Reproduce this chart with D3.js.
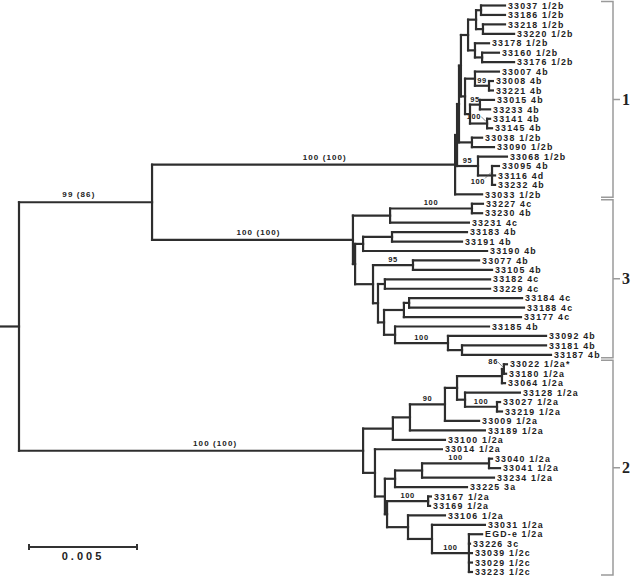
<!DOCTYPE html>
<html><head><meta charset="utf-8">
<script src="https://cdn.jsdelivr.net/npm/d3@7"></script>
<style>body{margin:0;background:#fff}</style>
</head><body>
<svg id="c" width="640" height="576"></svg>
<script>
// distances from root, in 10^-3 substitutions per site: [node, parent, distance]
const topNodes = [["root", null, 0], ["A", "root", 6.16]];
const lineage1Nodes = [
  ["L1","A",20.19],["L1c","L1",20.28],["L1b","L1c",20.37],["L1a","L1b",20.46],
  ["T","L1a",20.79],["T1","T",21.16],["t11","T1",21.39],
  ["33037 1/2b","t11",22.50],["33186 1/2b","t11",22.50],
  ["t12","T1",21.48],["33218 1/2b","t12",22.50],["33220 1/2b","t12",22.92],
  ["T2","T",21.11],["33178 1/2b","T2",21.76],["t21","T2",21.44],
  ["33160 1/2b","t21",22.22],["33176 1/2b","t21",22.92],
  ["M","L1a",20.65],["M1","M",21.11],["33007 4b","M1",22.22],
  ["m11","M1",21.76],["33008 4b","m11",21.94],["33221 4b","m11",21.94],
  ["M2","M",20.88],["m21","M2",21.34],["33015 4b","m21",21.99],["33233 4b","m21",21.81],
  ["m22","M2",21.67],["33141 4b","m22",21.81],["33145 4b","m22",21.90],
  ["z1","L1b",20.97],["33038 1/2b","z1",21.44],["33090 1/2b","z1",21.99],
  ["n95","L1c",21.25],["33068 1/2b","n95",22.59],["trio","n95",21.90],
  ["33095 4b","trio",22.22],["33116 4d","trio",22.04],["33232 4b","trio",22.04],
  ["33033 1/2b","L1",21.44]
];
const lineage3Nodes = [
  ["L3","A",15.46],["P1","L3",17.18],["p11","P1",20.97],
  ["33227 4c","p11",21.48],["33230 4b","p11",21.44],["33231 4c","P1",20.83],
  ["Q2","L3",15.56],["P2","Q2",15.93],["p21","P2",17.27],
  ["33183 4b","p21",20.74],["33191 4b","p21",20.51],["33190 4b","P2",21.67],
  ["P3","Q2",16.39],["n77","P3",18.24],["33077 4b","n77",21.30],["33105 4b","n77",21.90],
  ["R","P3",16.62],["r1","R",16.94],["33182 4c","r1",21.81],["33229 4c","r1",21.81],
  ["S","R",16.90],["U","S",17.82],["u1","U",18.06],
  ["33184 4c","u1",23.29],["33188 4c","u1",23.38],["33177 4c","U",23.24],
  ["V","S",17.41],["33185 4b","V",21.76],["W","V",19.86],["33092 4b","W",24.40],
  ["w1","W",20.51],["33181 4b","w1",24.40],["33187 4b","w1",24.63]
];
const lineage2Nodes = [
  ["L2","root",15.93],["G1","L2",17.31],["g89","G1",18.10],["g90","g89",19.72],
  ["gb","g90",20.28],["na","gb",22.36],["n86","na",22.45],
  ["33022 1/2a*","n86",22.59],["33180 1/2a","n86",22.55],["33064 1/2a","na",22.50],
  ["n128","gb",20.65],["33128 1/2a","n128",23.19],["n27","n128",22.13],
  ["33027 1/2a","n27",22.27],["33219 1/2a","n27",22.36],
  ["33009 1/2a","g90",21.30],["33189 1/2a","g89",21.57],["33100 1/2a","G1",19.72],
  ["G2","L2",16.48],["33014 1/2a","G2",19.58],["H","G2",16.94],["I","H",17.41],
  ["i1","I",18.66],["n40","i1",21.76],["33040 1/2a","n40",21.90],["33041 1/2a","n40",22.27],
  ["33234 1/2a","i1",21.99],["33225 3a","I",20.74],
  ["H2","H",17.04],["n167","H2",18.94],["33167 1/2a","n167",19.07],["33169 1/2a","n167",19.03],
  ["n106","H2",18.01],["33106 1/2a","n106",19.72],["K","n106",19.12],
  ["33031 1/2a","K",21.57],["Lc","K",20.83],["EGD-e 1/2a","Lc",21.44],
  ["33226 3c","Lc",20.88],["33039 1/2c","Lc",20.97],["33029 1/2c","Lc",20.97],["33223 1/2c","Lc",20.97]
];
const majorSupport = [["A","99 (86)"],["L1","100 (100)"],["L3","100 (100)"],["L2","100 (100)"]];
const minorSupport = [["m11","99"],["m21","95"],["m22","100"],["n95","95"],["trio","100"],
  ["p11","100"],["n77","95"],["W","100"],
  ["n86","86"],["n27","100"],["g90","90"],["n40","100"],["n167","100"],["Lc","100"]];
const lineageBrackets = [["1","33037 1/2b","33033 1/2b"],["3","33227 4c","33187 4b"],["2","33022 1/2a*","33223 1/2c"]];
const scaleBarValue = 0.005;

const rows = [...topNodes, ...lineage1Nodes, ...lineage3Nodes, ...lineage2Nodes];
const root = d3.stratify().id(d => d[0]).parentId(d => d[1])(rows);
const leaves = root.leaves();

const x = d3.scaleLinear().domain([0, 5]).range([19, 127]); // 5e-3 subst/site = 108 px
const y = d3.scalePoint().domain(leaves.map(d => d.id)).range([5.5, 572]);
root.each(n => n.px = x(n.data[2]));
root.eachAfter(n => {
  n.py = n.children ? (n.children[0].py + n.children[n.children.length - 1].py) / 2 : y(n.id);
});
const byId = new Map(root.descendants().map(n => [n.id, n]));

const svg = d3.select("#c");
const FONT = "'Liberation Sans', Arial, Helvetica, sans-serif";
const lines = svg.append("g").attr("stroke", "#2e2e2e").attr("stroke-width", 2.2)
  .attr("fill", "none").attr("stroke-linecap", "square");

lines.append("path").attr("d", `M0,${root.py}H${root.px}`);
lines.selectAll("path.h").data(root.descendants().filter(n => n.parent)).join("path")
  .attr("class", "h").attr("d", n => `M${n.parent.px},${n.py}H${n.px}`);
lines.selectAll("path.v").data(root.descendants().filter(n => n.children)).join("path")
  .attr("class", "v").attr("d", n => `M${n.px},${n.children[0].py}V${n.children[n.children.length-1].py}`);

// leaf labels
svg.append("g").attr("font-family", FONT).attr("font-weight", "bold").attr("font-size", 8.8)
  .attr("letter-spacing", 1.2).attr("fill", "#222")
  .selectAll("text").data(leaves).join("text")
  .attr("x", n => n.px + 3).attr("y", n => n.py).attr("dy", "0.36em").text(n => n.id);

// major support labels (placed along the branch)
const majorPos = { A: 0.45, L1: 0.57, L3: 0.53, L2: 0.57 };
svg.append("g").attr("font-family", FONT).attr("font-weight", "bold").attr("font-size", 8)
  .attr("letter-spacing", 1.1).attr("fill", "#222").attr("text-anchor", "middle")
  .selectAll("text").data(majorSupport).join("text")
  .attr("x", d => { const n = byId.get(d[0]); return n.parent.px + (n.px - n.parent.px) * majorPos[d[0]]; })
  .attr("y", d => byId.get(d[0]).py - 5).text(d => d[1]);

// minor support labels
const leaderStyle = { m22: "above", trio: "below", n86: "above" };
const minorG = svg.append("g").attr("font-family", FONT).attr("font-weight", "bold")
  .attr("font-size", 7.5).attr("letter-spacing", 0.6).attr("fill", "#222");
minorSupport.forEach(([id, t]) => {
  const n = byId.get(id);
  const mode = leaderStyle[id];
  if (!mode) {
    minorG.append("text").attr("text-anchor", "middle")
      .attr("x", (n.parent.px + n.px) / 2).attr("y", n.py - 3).text(t);
  } else if (mode === "above") {
    minorG.append("text").attr("text-anchor", "end")
      .attr("x", n.px - 6).attr("y", n.py - 5).text(t);
    minorG.append("path").attr("d", `M${n.px - 6},${n.py - 7}L${n.px - 1},${n.py - 2}`)
      .attr("stroke", "#555").attr("stroke-width", 0.7);
  } else {
    minorG.append("text").attr("text-anchor", "end")
      .attr("x", n.px - 7).attr("y", n.py + 9).text(t);
    minorG.append("path").attr("d", `M${n.px - 7},${n.py + 3}L${n.px - 1},${n.py - 3}`)
      .attr("stroke", "#555").attr("stroke-width", 0.7);
  }
});

// lineage brackets
const bx = 613;
const bg = svg.append("g");
lineageBrackets.forEach(([lab, a, b]) => {
  const y0 = byId.get(a).py - 4, y1 = byId.get(b).py + 3, ym = (y0 + y1) / 2;
  bg.append("path").attr("d", `M${bx - 12},${y0}H${bx}V${y1}H${bx - 12}M${bx},${ym}H${bx + 7}`)
    .attr("fill", "none").attr("stroke", "#9a9a9a").attr("stroke-width", 1.5);
  bg.append("text").attr("x", bx + 9).attr("y", ym).attr("dy", "0.35em")
    .attr("font-family", "'Liberation Serif', 'Times New Roman', serif").attr("font-weight", "bold")
    .attr("font-size", 16).attr("fill", "#222").text(lab);
});

// scale bar
const barLen = x(scaleBarValue * 1000) - x(0);
const sb = d3.scaleLinear().domain([0, scaleBarValue]).range([29, 29 + barLen]);
const sg = svg.append("g").attr("stroke", "#333").attr("stroke-width", 2);
sg.append("line").attr("x1", sb(0)).attr("x2", sb(scaleBarValue)).attr("y1", 547).attr("y2", 547);
[0, scaleBarValue].forEach(v => sg.append("line").attr("x1", sb(v)).attr("x2", sb(v)).attr("y1", 544).attr("y2", 550));
svg.append("text").attr("x", sb(scaleBarValue / 2)).attr("y", 560).attr("text-anchor", "middle")
  .attr("font-family", FONT).attr("font-weight", "bold").attr("font-size", 11)
  .attr("letter-spacing", 3).attr("fill", "#222").text(d3.format(".3f")(scaleBarValue));
</script>
</body></html>
